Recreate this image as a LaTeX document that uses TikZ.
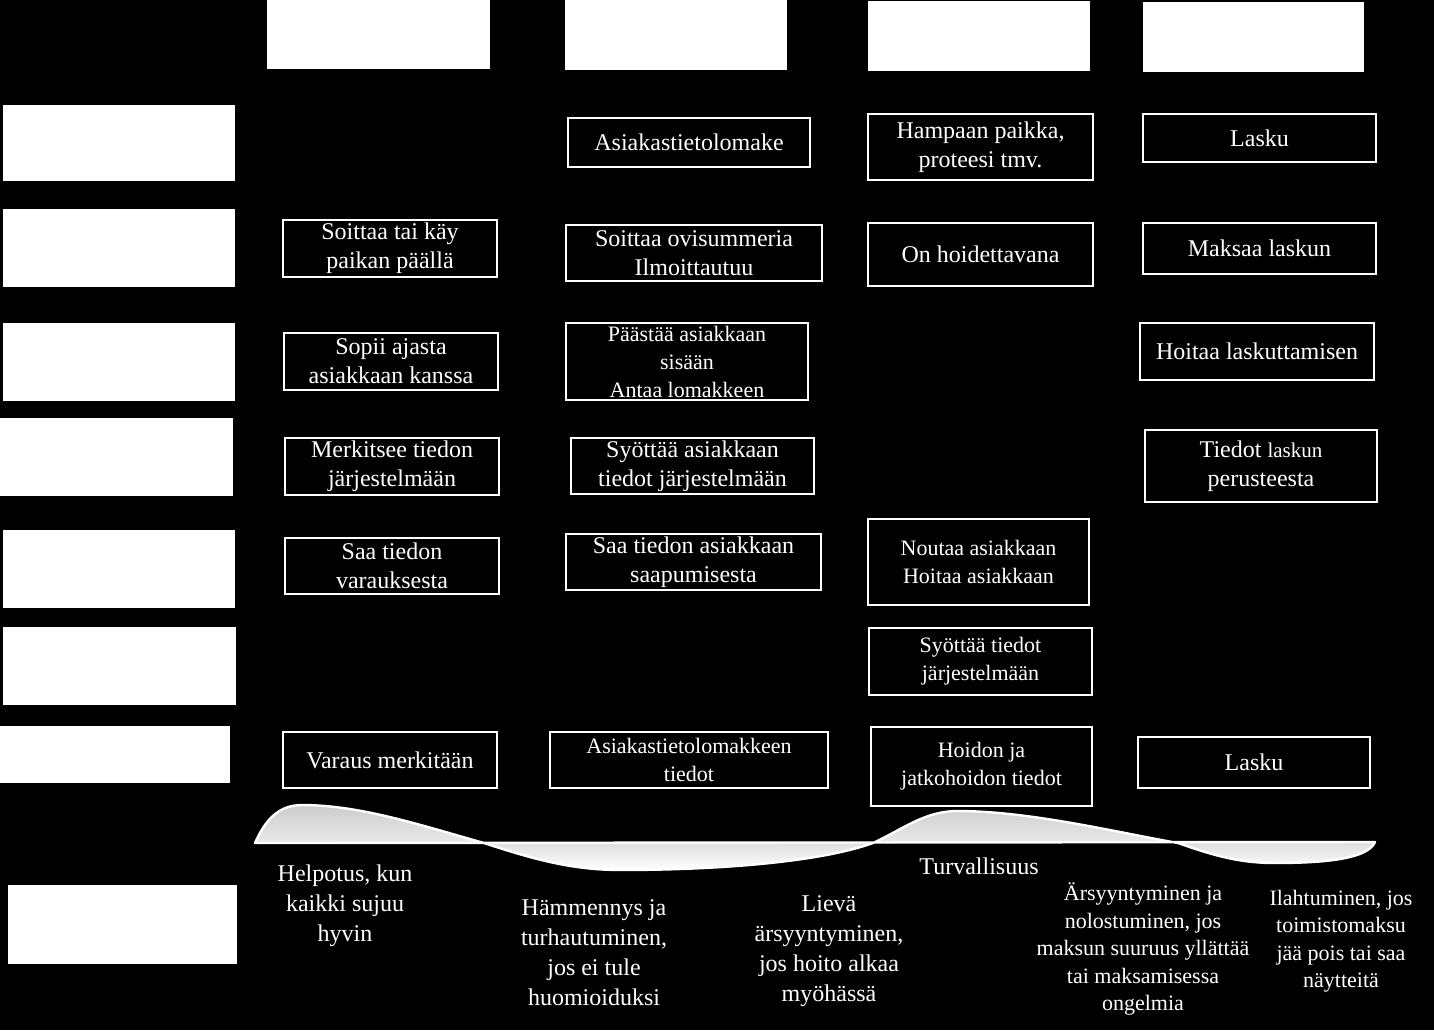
\documentclass[tikz,border=0pt]{standalone}
\usepackage{fontspec}
\setmainfont{Liberation Serif}
\newcommand\whitebox[5]{\node[fbox, minimum width={(#4-#2)*0.5pt}, minimum height={(#5-#3)*0.5pt}] (#1) at ({(#2+#4)/2},{(#3+#5)/2}) {};}
\newcommand\textbox[7][]{\node[obox, #1, minimum width={(#5-#3)*0.5pt}, minimum height={(#6-#4)*0.5pt}] (#2) at ({(#3+#5)/2},{(#4+#6)/2}) {#7};}
\newcommand\wavepath{(255,843) .. controls (266,818) and (280,805) .. (302,805)
  .. controls (360,805) and (420,825) .. (484,843)
  .. controls (530,858) and (570,870) .. (620,870)
  .. controls (720,870) and (820,862) .. (873,843)
  .. controls (905,828) and (925,811) .. (958,811)
  .. controls (1030,811) and (1120,833) .. (1178,843)
  .. controls (1215,856) and (1240,863) .. (1275,863)
  .. controls (1330,863) and (1368,858) .. (1375,842)
  -- cycle}
\begin{document}
\begin{tikzpicture}[x=0.5pt,y=-0.5pt,
  fbox/.style={fill=white, draw=none, inner sep=0pt, outer sep=0pt},
  obox/.style={draw=white, line width=1pt, fill=black, text=white, align=center,
    inner sep=0pt, outer sep=0pt, font=\fontsize{12}{14.5}\selectfont},
  smalltext/.style={font=\fontsize{11}{14}\selectfont},
  feel/.style={text=white, align=center, inner sep=0pt, font=\fontsize{12}{15}\selectfont},
  feelsmall/.style={feel, font=\fontsize{11}{13.75}\selectfont},
  waveup/.style={top color=gray!40, middle color=white, bottom color=white, draw=none},
  wavedown/.style={top color=gray!60, middle color=gray!60, bottom color=white, draw=none},
  waveedge/.style={draw=white, line width=1.2pt, line join=round}]
\fill[black] (0,0) rectangle (1434,1030);
\useasboundingbox (0,0) rectangle (1434,1030);
% header boxes
\whitebox{h1}{267}{0}{490}{69}
\whitebox{h2}{565}{0}{787}{70}
\whitebox{h3}{868}{1}{1090}{71}
\whitebox{h4}{1143}{2}{1364}{72}
% row label boxes
\whitebox{r1}{3}{105}{235}{181}
\whitebox{r2}{3}{209}{235}{287}
\whitebox{r3}{3}{323}{235}{401}
\whitebox{r4}{0}{418}{233}{496}
\whitebox{r5}{3}{530}{235}{608}
\whitebox{r6}{3}{627}{236}{705}
\whitebox{r7}{0}{726}{230}{783}
\whitebox{r8}{8}{885}{237}{964}
% row 1
\textbox{a1}{568}{118}{810}{167}{Asiakastietolomake}
\textbox{a2}{868}{114}{1093}{180}{Hampaan paikka,\\proteesi tmv.}
\textbox{a3}{1143}{114}{1376}{162}{Lasku}
% row 2
\textbox{b1}{283}{220}{497}{277}{Soittaa tai käy\\paikan päällä}
\textbox{b2}{566}{225}{822}{281}{Soittaa ovisummeria\\Ilmoittautuu}
\textbox{b3}{868}{223}{1093}{286}{On hoidettavana}
\textbox{b4}{1143}{223}{1376}{274}{Maksaa laskun}
% row 3
\textbox{c1}{284}{333}{498}{390}{Sopii ajasta\\asiakkaan kanssa}
\textbox[smalltext]{c2}{566}{323}{808}{400}{Päästää asiakkaan\\sisään\\Antaa lomakkeen}
\textbox{c4}{1140}{323}{1374}{380}{Hoitaa laskuttamisen}
% row 4
\textbox{d1}{285}{438}{499}{495}{Merkitsee tiedon\\järjestelmään}
\textbox{d2}{571}{438}{814}{494}{Syöttää asiakkaan\\tiedot järjestelmään}
\textbox{d4}{1145}{430}{1377}{502}{Tiedot {\fontsize{10.5}{14.5}\selectfont laskun}\\perusteesta}
% row 5
\textbox{e1}{285}{538}{499}{594}{Saa tiedon\\varauksesta}
\textbox{e2}{566}{534}{821}{590}{Saa tiedon asiakkaan\\saapumisesta}
\textbox[smalltext]{e3}{868}{519}{1089}{605}{Noutaa asiakkaan\\Hoitaa asiakkaan}
% row 6
\textbox[smalltext]{f3}{869}{628}{1092}{695}{Syöttää tiedot\\järjestelmään}
% row 7
\textbox{g1}{283}{732}{497}{788}{Varaus merkitään}
\textbox[smalltext]{g2}{550}{732}{828}{788}{Asiakastietolomakkeen\\tiedot}
\textbox[smalltext]{g3}{871}{727}{1092}{806}{Hoidon ja\\jatkohoidon tiedot}
\textbox{g4}{1138}{737}{1370}{788}{Lasku}
% emotional curve
\begin{scope}
  \clip (0,0) rectangle (1434,843);
  \path[waveup] \wavepath;
\end{scope}
\begin{scope}
  \clip (0,843) rectangle (1434,1030);
  \path[wavedown] \wavepath;
\end{scope}
\path[waveedge] \wavepath;
% feelings
\node[feel] (m1) at (345,906) {Helpotus, kun\\kaikki sujuu\\hyvin};
\node[feel] (m2) at (594,953) {Hämmennys ja\\turhautuminen,\\jos ei tule\\huomioiduksi};
\node[feel] (m3) at (829,951) {Lievä\\ärsyyntyminen,\\jos hoito alkaa\\myöhässä};
\node[feel] (m4) at (979,866) {Turvallisuus};
\node[feelsmall] (m5) at (1143,949) {Ärsyyntyminen ja\\nolostuminen, jos\\maksun suuruus yllättää\\tai maksamisessa\\ongelmia};
\node[feelsmall] (m6) at (1341,941) {Ilahtuminen, jos\\toimistomaksu\\jää pois tai saa\\näytteitä};
\end{tikzpicture}
\end{document}
